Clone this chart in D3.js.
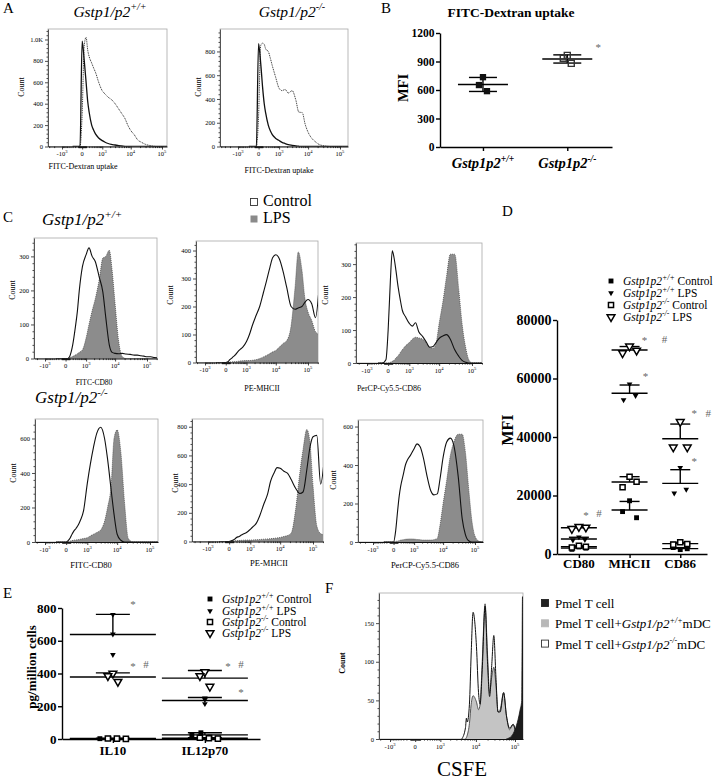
<!DOCTYPE html>
<html><head><meta charset="utf-8">
<script src="https://cdn.jsdelivr.net/npm/d3@7/dist/d3.min.js"></script>
<style>html,body{margin:0;padding:0;background:#fff}svg{display:block}</style>
</head><body>
<svg id="fig" width="713" height="780"></svg>
<script>
// ================= DATA =================
// shared fluorescence bins for histograms (A, C)
const GRID = [-300,-150,-50,0,50,100,150,200,300,400,500,700,1000,1300,1700,2200,3000,4000,5000,6500,8000,10000,13000,17000,22000,30000,40000,50000,65000,80000,100000,130000,170000,220000];
// Panel A: FITC-Dextran uptake histograms (counts per bin)
const aWtControl = [0,0,0,985,800,600,420,320,200,150,115,80,55,40,28,20,14,8,5,2,0,0,0,0,0,0,0,0,0,0,0,0,0,0];
const aWtUptake  = [0,0,0,300,950,1020,900,840,780,730,690,600,520,490,460,440,400,350,310,260,200,150,110,60,40,20,10,4,0,0,0,0,0,0];
const aKoControl = [0,0,0,865,700,500,360,280,180,130,100,70,50,35,25,16,10,5,2,0,0,0,0,0,0,0,0,0,0,0,0,0,0,0];
const aKoUptake  = [0,0,0,250,850,870,860,820,800,740,680,590,490,470,480,450,470,390,290,285,190,120,70,40,18,7,2,0,0,0,0,0,0,0];
// Panel C: marker histograms
const cWtCd80Ctrl = [0,0,0, 0,0,5,20,40,90,140,200,270,305, 325,300,285,240,195,120,40,18,15,14, 15,13,12,10,10,8,7,5,5,3, 2];
const cWtCd80Lps  = [0,0,0, 0,0,2,4,6,10,14,18,25,60, 100,140,175,230,295,300,318,260,160,50, 5,0,0,0,0,0,0,0,0,0, 0];
const cWtMhcCtrl  = [0,0,0, 0,3,10,15,20,28,38,45,55,75, 100,135,165,200,250,290,340,375,385,370, 325,268,200,190,195,200,215,225,210,160, 270];
const cWtMhcLps   = [0,0,0, 0,1,2,2,3,3,4,5,6,7, 7,8,10,14,20,25,32,38,43,55, 68,78,130,270,395,330,230,180,150,110, 100];
const cWtCd86Ctrl = [0,0,10, 100,250,340,320,290,230,190,160,140,120, 112,122,95,80,62,48,50,62,75,82, 86,72,40,20,8,2,0,0,0,0, 0];
const cWtCd86Lps  = [0,0,0, 0,2,5,8,14,22,32,40,52,62, 72,78,76,72,60,48,45,60,120,185, 265,330,330,220,120,45,10,0,0,0, 0];
const cKoCd80Ctrl = [0,0,0, 0,10,25,45,60,80,100,125,180,340, 450,550,630,665,600,480,300,160,45,10, 0,0,0,0,0,0,0,0,0,0, 0];
const cKoCd80Lps  = [0,0,0, 0,2,5,8,10,12,14,16,20,25, 35,45,55,70,120,200,330,600,650,520, 220,20,0,0,0,0,0,0,0,0, 0];
const cKoMhcCtrl  = [0,0,0, 0,5,10,18,28,35,45,52,63,85, 105,130,180,260,330,420,480,515,510,490, 475,430,370,335,345,500,650,730,740,400, 580];
const cKoMhcLps   = [0,0,0, 0,2,4,5,6,7,8,9,10,10, 11,12,14,16,18,20,22,25,28,35, 42,60,230,480,640,780,700,390,110,55, 45];
const cKoCd86Ctrl = [0,0,0, 0,60,160,240,290,350,400,425,450,485, 510,495,440,340,265,245,250,330,440,520, 540,500,340,120,40,5,0,0,0,0, 0];
const cKoCd86Lps  = [0,0,0, 0,3,5,7,10,12,14,15,16,15, 13,12,10,10,10,12,20,90,200,320, 450,520,560,560,470,260,110,30,5,0, 0];
// Panel F: CSFE dilution [fluorescence, count]
const fKoMdc = [[4222,0],[5325,15],[5619,27],[5928,22],[6765,45],[7515,110],[8430,164],[10330,120],[11700,60],[12860,45],[14580,90],[17270,172],[19920,100],[22570,55],[25540,95],[28910,134],[32750,80],[37060,35],[41930,35],[51380,60],[60710,30],[73030,14],[89550,19],[105660,10],[135190,5],[172800,3]];
const fWtMdc = [[5325,0],[5928,5],[6765,20],[7515,45],[8430,56],[10330,48],[11700,38],[12860,45],[14580,100],[17270,175],[19920,110],[22570,60],[25540,80],[28910,93],[32750,70],[37060,35],[41930,38],[51380,60],[60710,30],[73030,12],[89550,19],[105660,8],[135190,3],[172800,0]];
const fPmel  = [[60000,0],[82650,4],[99660,12],[119520,25],[135190,38],[148260,50],[155000,184],[172800,184]];
// Panel B: MFI
const bCats = ["+/+","-/-"];
const bWt = [735,652,588];
const bKo = [965,935,880];
const bTicks = [0,300,600,900,1200];
// Panel D: MFI per marker (per category, 3 replicates)
const dCats = ["CD80","MHCII","CD86"];
const dWtCtrl = [[2400,1600,2000],[18200,14500,12400],[1500,2200,1800]];
const dWtLps  = [[5800,4700,4900],[58100,52650,54100],[29500,20800,22100]];
const dKoCtrl = [[2800,2200,2500],[26400,22800,24700],[4000,3200,3400]];
const dKoLps  = [[9300,8600,9100],[71000,68700,69600],[45200,36500,36500]];
const dTicks = [0,20000,40000,60000,80000];
// Panel E: cytokines (pg/million cells)
const eCats = ["IL10","IL12p70"];
const eWtCtrl = [[4,2,3],[38,25,12]];
const eWtLps  = [[760,640,515],[250,240,215]];
const eKoCtrl = [[2,3,1],[5,8,2]];
const eKoLps  = [[400,385,350],[410,385,320]];
const eTicks = [0,200,400,600,800];

// ================= DRAWING =================
const SERIF = '"Liberation Serif","Times New Roman",Times,serif';
const svg = d3.select("#fig");
svg.append("rect").attr("width",713).attr("height",780).attr("fill","#fff");

function rich(parent, x, y, parts, o) {
  o = o || {};
  const size = o.size || 10;
  const t = parent.append("text").attr("x", x).attr("y", y)
    .attr("font-family", SERIF).attr("font-size", size)
    .attr("text-anchor", o.anchor || "start")
    .attr("font-weight", o.weight || "normal")
    .attr("fill", o.fill || "#000");
  if (o.rotate) t.attr("transform", `rotate(${o.rotate},${x},${y})`);
  let cur = 0;
  parts.forEach(p => {
    if (typeof p === "string") p = {t: p};
    const s = t.append("tspan").text(p.t);
    if (p.i) s.attr("font-style", "italic");
    if (p.sup) {
      s.attr("font-size", size * (o.supScale || 0.65));
      const target = -size * 0.42;
      if (target - cur !== 0) s.attr("dy", target - cur);
      cur = target;
    } else if (cur !== 0) { s.attr("dy", -cur); cur = 0; }
  });
  return t;
}

const MAJ = [-1000, 0, 1000, 10000, 100000];
const MINOR = [];
for (let k = 1; k <= 9; k++) MINOR.push(k*10, -k*10, k*100, -k*100, k*1000, -k*1000, k*10000, k*100000);
let clipN = 0;

function hist(c) {
  const g = svg.append("g");
  const base = d3.scaleSymlog().constant(300).domain([-1000, 1e5]).range([c.xNeg, c.xPos]);
  const x = d3.scaleSymlog().constant(300).domain([base.invert(c.L), base.invert(c.R)]).range([c.L, c.R]);
  const y = d3.scaleLinear().domain([0, c.yMax]).range([c.B, c.T]);
  const id = "hclip" + (clipN++);
  g.append("clipPath").attr("id", id).append("rect")
    .attr("x", c.L).attr("y", c.T).attr("width", c.R - c.L).attr("height", c.B - c.T);
  g.append("rect").attr("x", c.L).attr("y", c.T).attr("width", c.R - c.L).attr("height", c.B - c.T)
    .attr("fill", "none").attr("stroke", "#a8a8a8").attr("stroke-width", 0.8);
  const pg = g.append("g").attr("clip-path", `url(#${id})`);
  c.series.forEach(s => {
    const pts = s.pairs ? s.pairs : GRID.map((v, i) => [v, s.counts[i] || 0]);
    const curve = d3.curveMonotoneX;
    if (s.fill) {
      pg.append("path").datum(pts)
        .attr("d", d3.area().x(d => x(d[0])).y0(y(0)).y1(d => y(d[1])).curve(curve))
        .attr("fill", s.fill).attr("stroke", "none");
    }
    if (s.stroke) {
      pg.append("path").datum(pts)
        .attr("d", d3.line().x(d => x(d[0])).y(d => y(d[1])).curve(curve))
        .attr("fill", "none").attr("stroke", s.stroke).attr("stroke-width", s.sw || 1)
        .attr("stroke-dasharray", s.dash || null).attr("stroke-linejoin", "round");
    }
  });
  // y axis
  const step = c.yTicks[1] - c.yTicks[0];
  const minorY = d3.range(step / 5, c.yMax, step / 5).filter(v => Math.abs(v / step - Math.round(v / step)) > 1e-6);
  const ym = g.append("g").attr("transform", `translate(${c.L},0)`)
    .call(d3.axisLeft(y).tickValues(minorY).tickFormat("").tickSize(1.5).tickSizeOuter(0));
  ym.select(".domain").remove();
  const ya = g.append("g").attr("transform", `translate(${c.L},0)`)
    .call(d3.axisLeft(y).tickValues(c.yTicks).tickFormat(c.yFmt || (d => d)).tickSize(3).tickSizeOuter(0).tickPadding(2));
  ya.attr("font-family", SERIF).attr("font-size", 6.5);
  ya.select(".domain").attr("stroke", "#444").attr("stroke-width", 0.9);
  [ym, ya].forEach(a => a.selectAll("line").attr("stroke", "#222").attr("stroke-width", 0.8));
  // x axis
  const dom = x.domain();
  const xm = g.append("g").attr("transform", `translate(0,${c.B})`)
    .call(d3.axisBottom(x).tickValues(MINOR.filter(v => v > dom[0] && v < dom[1] && !MAJ.includes(v))).tickFormat("").tickSize(1.6).tickSizeOuter(0));
  xm.select(".domain").remove();
  const majors = MAJ.filter(v => v > dom[0] && v < dom[1]);
  const xa = g.append("g").attr("transform", `translate(0,${c.B})`)
    .call(d3.axisBottom(x).tickValues(majors).tickFormat("").tickSize(3).tickSizeOuter(0));
  xa.select(".domain").attr("stroke", "#111").attr("stroke-width", 1.1);
  [xm, xa].forEach(a => a.selectAll("line").attr("stroke", "#111").attr("stroke-width", 0.8));
  majors.forEach(v => {
    const parts = v === 0 ? ["0"] : [(v < 0 ? "-" : "") + "10", {t: String(Math.round(Math.log10(Math.abs(v)))), sup: true}];
    rich(g, x(v), c.B + 9.5, parts, {size: 6.5, anchor: "middle", supScale: 0.7});
  });
  if (c.xlabel) rich(g, c.xl[0], c.xl[1], [c.xlabel], {size: c.xlFs || 8, anchor: "middle"});
  rich(g, c.cl[0], c.cl[1], ["Count"], {size: 8, anchor: "middle", rotate: -90, weight: c.countWeight || "normal"});
}

const MARK = {
  sqF:  {type: d3.symbolSquare, size: 24, fill: "#000", stroke: "none", sw: 0},
  sqFb: {type: d3.symbolSquare, size: 40, fill: "#111", stroke: "none", sw: 0},
  sqOb: {type: d3.symbolSquare, size: 36, fill: "none", stroke: "#333", sw: 1.4},
  triF: {type: d3.symbolTriangle, size: 14, fill: "#000", stroke: "none", sw: 0, rot: 180},
  sqO:  {type: d3.symbolSquare, size: 26, fill: "#fff", stroke: "#000", sw: 1.5},
  triO: {type: d3.symbolTriangle, size: 26, fill: "#fff", stroke: "#000", sw: 1.5, rot: 180}
};
function marker(g, key, x, y) {
  const m = MARK[key];
  g.append("path").attr("d", d3.symbol().type(m.type).size(m.size)())
    .attr("transform", `translate(${x},${y})` + (m.rot ? ` rotate(${m.rot})` : ""))
    .attr("fill", m.fill).attr("stroke", m.stroke).attr("stroke-width", m.sw);
}

function dotPlot(c) {
  const g = svg.append("g");
  const y = d3.scaleLinear().domain([0, c.yMax]).range([c.B, c.T]);
  const x = d3.scalePoint().domain(c.cats).range([c.L, c.R]).padding(c.pad).align(c.align);
  const ya = g.append("g").attr("transform", `translate(${c.L},0)`)
    .call(d3.axisLeft(y).tickValues(c.yTicks).tickFormat(d3.format("d")).tickSize(4).tickSizeOuter(0).tickPadding(1.5));
  ya.attr("font-family", SERIF).attr("font-size", c.tickFs).attr("font-weight", "bold");
  ya.selectAll("line,path").attr("stroke", "#000").attr("stroke-width", 1.4);
  const xa = g.append("g").attr("transform", `translate(0,${c.B})`)
    .call(d3.axisBottom(x).tickFormat("").tickSize(4).tickSizeOuter(0));
  xa.selectAll("line,path").attr("stroke", "#000").attr("stroke-width", 1.4);
  c.cats.forEach(k => rich(g, x(k), c.catY, c.catParts(k), {size: c.catFs, anchor: "middle", weight: "bold"}));
  rich(g, c.yl[0], c.yl[1], [c.ylabel], {size: c.ylFs, anchor: "middle", weight: "bold", rotate: -90});
  const lines = g.append("g").attr("stroke", "#000").attr("stroke-width", 1.4);
  c.groups.forEach(gr => c.cats.forEach((k, i) => {
    const vals = gr.values[i];
    if (!vals || vals.length < 2) return;
    const m = d3.mean(vals), sd = d3.deviation(vals), cx = x(k);
    lines.append("line").attr("x1", cx - c.mh).attr("x2", cx + c.mh).attr("y1", y(m)).attr("y2", y(m));
    lines.append("line").attr("x1", cx).attr("x2", cx).attr("y1", y(c.both ? m - sd : m)).attr("y2", y(m + sd));
    lines.append("line").attr("x1", cx - c.ch).attr("x2", cx + c.ch).attr("y1", y(m + sd)).attr("y2", y(m + sd));
    if (c.both) lines.append("line").attr("x1", cx - c.ch).attr("x2", cx + c.ch).attr("y1", y(m - sd)).attr("y2", y(m - sd));
  }));
  const jit = [0, -1, 1];
  c.groups.forEach(gr => c.cats.forEach((k, i) => (gr.values[i] || []).forEach((v, j) => {
    marker(g, gr.marker, x(k) + (gr.dx || 0) + jit[j] * gr.spread, y(v));
  })));
  c.notes.forEach(n => g.append("text").attr("x", x(n.cat) + n.dx).attr("y", y(n.v))
    .attr("dy", n.t === "*" ? "0.55em" : "0.33em").attr("text-anchor", "middle")
    .attr("font-family", SERIF).attr("font-size", 11).attr("fill", "#666").text(n.t));
}

function legendRows(x, ys, items, fs) {
  items.forEach((it, i) => {
    marker(svg, it.marker, x, ys[i]);
    rich(svg, x + 12, ys[i] + fs * 0.33, it.parts, {size: fs, supScale: 0.68});
  });
}

// ---------- panel letters ----------
[["A",3,13],["B",381,13],["C",3,222],["D",502,216],["E",3,598],["F",325,593]]
  .forEach(([t, x, y]) => rich(svg, x, y, [t], {size: 15}));

// ---------- Panel A ----------
rich(svg, 110, 17, [{t:"Gstp1/p2", i:1}, {t:"+/+", sup:1, i:1}], {size: 15.5, anchor: "middle"});
rich(svg, 292, 17, [{t:"Gstp1/p2", i:1}, {t:"-/-", sup:1, i:1}], {size: 15.5, anchor: "middle"});
hist({L:48, R:167, T:29, B:146.5, xNeg:62, xPos:162, yMax:1098, yTicks:[0,200,400,600,800,1000],
  yFmt: d => d === 1000 ? "1.0K" : d, xlabel:"FITC-Dextran uptake", xl:[83,169], cl:[23.5,87],
  series:[{counts:aWtUptake, stroke:"#333", sw:1, dash:"1,0.8"}, {counts:aWtControl, stroke:"#111", sw:1.3}]});
hist({L:220, R:348, T:29, B:146.5, xNeg:238, xPos:340, yMax:989, yTicks:[0,200,400,600,800],
  xlabel:"FITC-Dextran uptake", xl:[279,173], cl:[200.5,87],
  series:[{counts:aKoUptake, stroke:"#333", sw:1, dash:"1,0.8"}, {counts:aKoControl, stroke:"#111", sw:1.3}]});

// ---------- Panel B ----------
rich(svg, 511, 17, ["FITC-Dextran uptake"], {size: 13.5, anchor: "middle", weight: "bold"});
dotPlot({L:440, R:612, T:33, B:147, yMax:1200, yTicks:bTicks, tickFs:11.5, cats:bCats, pad:0.52, align:0.49,
  catY:168, catFs:14.5, catParts: k => [{t:"Gstp1p2", i:1}, {t:k, sup:1, i:1}],
  ylabel:"MFI", yl:[408,88], ylFs:14.5, mh:25, ch:14, both:true,
  groups:[{values:[bWt, []], marker:"sqFb", spread:4}, {values:[[], bKo], marker:"sqOb", spread:4}],
  notes:[{cat:"-/-", v:1074, t:"*", dx:31}]});

// ---------- Panel C ----------
rich(svg, 42, 225, [{t:"Gstp1/p2", i:1}, {t:"+/+", sup:1, i:1}], {size: 17});
rich(svg, 35, 403, [{t:"Gstp1/p2", i:1}, {t:"-/-", sup:1, i:1}], {size: 17});
svg.append("rect").attr("x",250.5).attr("y",198.5).attr("width",7).attr("height",7).attr("fill","#fff").attr("stroke","#333").attr("stroke-width",0.9);
svg.append("rect").attr("x",250.5).attr("y",215.5).attr("width",7).attr("height",7).attr("fill","#8a8a8a");
rich(svg, 263, 206, ["Control"], {size: 16});
rich(svg, 263, 223, ["LPS"], {size: 16});
const LPS = (arr) => ({counts: arr, fill: "#8c8c8c", stroke: "#4a4a4a", sw: 0.8, dash: "1,1"});
const CTRL = (arr) => ({counts: arr, stroke: "#111", sw: 1.1});
hist({L:34, R:157, T:238, B:358.5, xNeg:45, xPos:147, yMax:354, yTicks:[0,100,200,300],
  xlabel:"FITC-CD80", xlFs:7.5, xl:[94,384.5], cl:[15,290], series:[LPS(cWtCd80Lps), CTRL(cWtCd80Ctrl)]});
hist({L:196, R:318, T:241, B:362.5, xNeg:205, xPos:308, yMax:434, yTicks:[0,100,200,300,400],
  xlabel:"PE-MHCII", xl:[262,391], cl:[173,295], series:[LPS(cWtMhcLps), CTRL(cWtMhcCtrl)]});
hist({L:356, R:482, T:243, B:363, xNeg:367, xPos:472, yMax:364, yTicks:[0,100,200,300],
  xlabel:"PerCP-Cy5.5-CD86", xl:[389,391], cl:[328,295], series:[LPS(cWtCd86Lps), CTRL(cWtCd86Ctrl)]});
hist({L:35, R:158, T:419, B:542, xNeg:45, xPos:150, yMax:713, yTicks:[0,200,400,600],
  xlabel:"FITC-CD80", xlFs:8.5, xl:[91,568], cl:[16,473], series:[LPS(cKoCd80Lps), CTRL(cKoCd80Ctrl)]});
hist({L:192, R:323, T:419, B:541.5, xNeg:208, xPos:313, yMax:854, yTicks:[0,200,400,600,800],
  xlabel:"PE-MHCII", xlFs:8.5, xl:[269,566], cl:[178,483], series:[LPS(cKoMhcLps), CTRL(cKoMhcCtrl)]});
hist({L:358, R:483, T:420, B:542, xNeg:373, xPos:475, yMax:634, yTicks:[0,200,400,600],
  xlabel:"PerCP-Cy5.5-CD86", xlFs:8.5, xl:[425,568], cl:[336,480], series:[LPS(cKoCd86Lps), CTRL(cKoCd86Ctrl)]});

// ---------- Panel D ----------
const geno = (g, cond) => [{t:"Gstp1p2", i:1}, {t:g, sup:1, i:1}, {t:" " + cond}];
legendRows(611, [281,293,305,317], [
  {marker:"sqF", parts: geno("+/+","Control")}, {marker:"triF", parts: geno("+/+","LPS")},
  {marker:"sqO", parts: geno("-/-","Control")}, {marker:"triO", parts: geno("-/-","LPS")}], 11.5);
dotPlot({L:557, R:707, T:320, B:554, yMax:80000, yTicks:dTicks, tickFs:14, cats:dCats, pad:0.48, align:0.45,
  catY:568, catFs:13, catParts: k => [k], ylabel:"MFI", yl:[513,430], ylFs:16, mh:18, ch:10, both:false,
  groups:[{values:dWtCtrl, marker:"sqF", spread:7}, {values:dKoCtrl, marker:"sqO", spread:7},
          {values:dWtLps, marker:"triF", spread:6}, {values:dKoLps, marker:"triO", spread:7}],
  notes:[{cat:"CD80",v:14000,t:"*",dx:7},{cat:"CD80",v:14000,t:"#",dx:20},
         {cat:"MHCII",v:73800,t:"*",dx:15},{cat:"MHCII",v:73500,t:"#",dx:35},{cat:"MHCII",v:61500,t:"*",dx:16},
         {cat:"CD86",v:48900,t:"*",dx:14},{cat:"CD86",v:48200,t:"#",dx:28},{cat:"CD86",v:32500,t:"*",dx:14}]});

// ---------- Panel E ----------
legendRows(210, [599,611,622,633], [
  {marker:"sqF", parts: geno("+/+","Control")}, {marker:"triF", parts: geno("+/+","LPS")},
  {marker:"sqO", parts: geno("-/-","Control")}, {marker:"triO", parts: geno("-/-","LPS")}], 11.5);
dotPlot({L:62, R:260, T:608, B:739, yMax:800, yTicks:eTicks, tickFs:13, cats:eCats, pad:0.576, align:0.48,
  catY:755, catFs:13, catParts: k => [k], ylabel:"pg/million cells", yl:[36,667], ylFs:13, mh:43, ch:17, both:false,
  groups:[{values:eWtCtrl, marker:"sqF", spread:9, dx:-4}, {values:eKoCtrl, marker:"sqO", spread:9, dx:4},
          {values:eWtLps, marker:"triF", spread:0}, {values:eKoLps, marker:"triO", spread:5}],
  notes:[{cat:"IL10",v:840,t:"*",dx:20},{cat:"IL10",v:458,t:"*",dx:20},{cat:"IL10",v:458,t:"#",dx:33},
         {cat:"IL12p70",v:458,t:"*",dx:23},{cat:"IL12p70",v:458,t:"#",dx:36},{cat:"IL12p70",v:299,t:"*",dx:36}]});

// ---------- Panel F ----------
hist({L:379, R:523, T:593, B:739, xNeg:390, xPos:515, yMax:189, yTicks:[0,50,100,150],
  cl:[345,663], countWeight:"bold",
  series:[{pairs:fWtMdc, fill:"#c4c4c4", stroke:"#444", sw:0.9},
          {pairs:fKoMdc, stroke:"#111", sw:1},
          {pairs:fPmel, fill:"#1c1c1c", stroke:"#111", sw:0.8}]});
rich(svg, 462, 776, ["CSFE"], {size: 21, anchor: "middle"});
[["#222", "#222"], ["#b8b8b8", "#b8b8b8"], ["#fff", "#333"]].forEach(([f, s], i) => {
  svg.append("rect").attr("x", 541.5).attr("y", 599.5 + i * 20.3).attr("width", 7).attr("height", 7)
    .attr("fill", f).attr("stroke", s).attr("stroke-width", 0.9);
});
rich(svg, 555, 608, ["Pmel T cell"], {size: 13});
rich(svg, 555, 628, ["Pmel T cell+", {t:"Gstp1/p2", i:1}, {t:"+/+", sup:1, i:1}, "mDC"], {size: 13, supScale: 0.62});
rich(svg, 555, 648.5, ["Pmel T cell+", {t:"Gstp1/p2", i:1}, {t:"-/-", sup:1, i:1}, "mDC"], {size: 13, supScale: 0.62});
</script>
</body></html>
